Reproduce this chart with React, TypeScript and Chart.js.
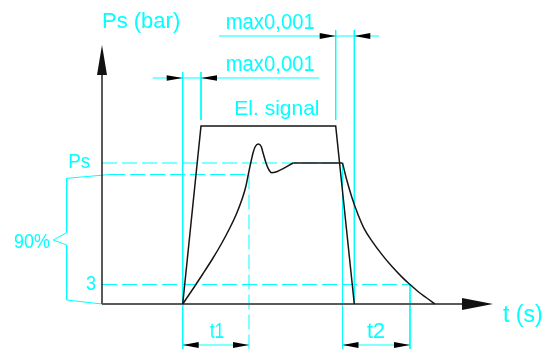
import { useEffect, useRef } from "react";
import { Chart, registerables } from "chart.js";

Chart.register(...registerables);

// ---- Data (time units along t, pressure units along Ps; origin = axes corner) ----
// Pressure rise with overshoot
const RISE_T = [80.7, 90.9, 100.8, 110.4, 119.3, 127.3, 134.4, 140.1, 143.7, 146.3, 148.7, 151.3, 153.3, 156.3, 159.2, 160.8, 164, 167, 169.7, 173, 191.3];
const RISE_P = [0, 15, 30, 45, 60, 75, 90, 105, 117, 129.5, 141, 152, 157.5, 160, 157.5, 152, 141, 134, 131.3, 131.7, 141];
// Steady pressure
const STEADY_T = [191.3, 240.5];
const STEADY_P = [141, 141];
// Pressure decay
const DECAY_T = [240.5, 244.5, 250, 256, 262, 270, 280, 290, 300, 308, 316, 324, 333];
const DECAY_P = [141, 125, 106.3, 89.5, 75.7, 62.9, 49.4, 37.4, 26.9, 19.5, 12.5, 6.5, 0];
// Electrical signal
const SIGNAL_T = [80.7, 99, 233.7, 252.3];
const SIGNAL_P = [0, 178, 178, 0];

// Levels and times
const LEVEL_PS = 141;
const LEVEL_90 = 129.5;
const LEVEL_3 = 19.5;
const T_START = 80.7;
const T_SIG_ON = 99;
const T_SIG_OFF = 233.7;
const T_SIG_END = 252.3;
const T_90 = 147;
const T_FALL = 240.5;
const T_3 = 308;

// Texts
const AXIS_Y_TITLE = "Ps (bar)";
const AXIS_X_TITLE = "t (s)";
const LEVEL_LABELS = ["Ps", "3"];
const TIME_LABELS = ["t1", "t2"];
const DELAY_LABEL = "max0,001";
const SIGNAL_LABEL = "El. signal";
const BAND_LABEL = "90%";

const CYAN = "#00ffff";
const INK = "#151515";

const pts = (ts: number[], ps: number[]) => ts.map((t, i) => ({ x: t, y: ps[i] }));
const seg = (a: [number, number][]) => a.map(([x, y]) => ({ x, y }));

function lineDs(data: { x: number; y: number }[], color: string, width: number, extra: any = {}) {
  return {
    data,
    showLine: true,
    borderColor: color,
    backgroundColor: color,
    borderWidth: width,
    pointRadius: 0,
    pointHoverRadius: 0,
    fill: false,
    tension: 0,
    ...extra,
  };
}

const annotate = {
  id: "annotate",
  afterDatasetsDraw(chart: any) {
    const { ctx } = chart;
    const xs = chart.scales.x;
    const ys = chart.scales.y;
    const X = (t: number) => xs.getPixelForValue(t);
    const Y = (p: number) => ys.getPixelForValue(p);

    const arrow = (t: number, p: number, dir: string, len: number, half: number, color = "#000") => {
      const x = X(t);
      const y = Y(p);
      ctx.save();
      ctx.fillStyle = color;
      ctx.beginPath();
      ctx.moveTo(x, y);
      if (dir === "right") {
        ctx.lineTo(x - len, y - half);
        ctx.lineTo(x - len, y + half);
      } else if (dir === "left") {
        ctx.lineTo(x + len, y - half);
        ctx.lineTo(x + len, y + half);
      } else if (dir === "up") {
        ctx.lineTo(x - half, y + len);
        ctx.lineTo(x + half, y + len);
      }
      ctx.closePath();
      ctx.fill();
      ctx.restore();
    };

    // axis arrowheads
    arrow(0, 259, "up", 30, 5, "#111");
    arrow(391, 0, "right", 31, 6, "#111");
    // dimension arrowheads
    arrow(T_START, 226, "right", 16, 2.8);
    arrow(T_SIG_ON, 226, "left", 16, 2.8);
    arrow(T_SIG_OFF, 268, "right", 16, 3);
    arrow(T_SIG_END, 268, "left", 16, 3);
    arrow(T_START, -41, "left", 16, 3);
    arrow(T_90, -41, "right", 16, 3);
    arrow(T_FALL, -41, "left", 16, 3);
    arrow(T_3, -41, "right", 16, 3);

    const text = (s: string, t: number, p: number, size: number, maxW?: number) => {
      ctx.save();
      ctx.fillStyle = CYAN;
      ctx.font = `${size}px "Liberation Sans", Arial, sans-serif`;
      ctx.textAlign = "left";
      ctx.textBaseline = "alphabetic";
      if (maxW) ctx.fillText(s, X(t), Y(p), maxW);
      else ctx.fillText(s, X(t), Y(p));
      ctx.restore();
    };

    text(AXIS_Y_TITLE, 0, 275.7, 22, 82);
    text(DELAY_LABEL, 123.7, 274.7, 22, 89);
    text(DELAY_LABEL, 123.7, 233, 22, 89);
    text(SIGNAL_LABEL, 132.3, 189, 21, 87);
    text(LEVEL_LABELS[0], -33.7, 135.7, 21, 22);
    text(LEVEL_LABELS[1], -16, 14, 21, 10);
    text(BAND_LABEL, -88, 55.7, 21, 36);
    text(TIME_LABELS[0], 108, -34, 22, 14);
    text(TIME_LABELS[1], 265, -34, 22, 18);
    text(AXIS_X_TITLE, 401, -18, 23, 44);
  },
};

export default function App() {
  const ref = useRef<HTMLCanvasElement>(null);

  useEffect(() => {
    document.body.style.margin = "0";
    const dash = { borderDash: [15, 5] };
    const datasets: any[] = [
      // black marks (drawn on top)
      lineDs(pts(RISE_T, RISE_P), INK, 1.5, { cubicInterpolationMode: "monotone" }),
      lineDs(pts(STEADY_T, STEADY_P), INK, 1.5),
      lineDs(pts(DECAY_T, DECAY_P), INK, 1.5, { cubicInterpolationMode: "monotone" }),
      lineDs(pts(SIGNAL_T, SIGNAL_P), INK, 1.5),
      lineDs(seg([[0, 0], [362, 0]]), "#5a5a5a", 2),
      lineDs(seg([[0, 0], [0, 231]]), "#222", 1.5),
      // cyan reference lines
      lineDs(seg([[0, LEVEL_PS], [T_FALL, LEVEL_PS]]), CYAN, 1, dash),
      lineDs(seg([[8, LEVEL_90], [T_90, LEVEL_90]]), CYAN, 1, dash),
      lineDs(seg([[0, LEVEL_3], [T_3, LEVEL_3]]), CYAN, 1, dash),
      lineDs(seg([[T_90, LEVEL_90], [T_90, -45]]), CYAN, 1, dash),
      lineDs(seg([[T_START, 232], [T_START, -45]]), CYAN, 1),
      lineDs(seg([[T_SIG_ON, 232], [T_SIG_ON, 184]]), CYAN, 1),
      lineDs(seg([[T_SIG_OFF, 274], [T_SIG_OFF, 184]]), CYAN, 1),
      lineDs(seg([[T_SIG_END, 274], [T_SIG_END, 0]]), CYAN, 1),
      lineDs(seg([[T_FALL, LEVEL_PS], [T_FALL, -45]]), CYAN, 1),
      lineDs(seg([[T_3, LEVEL_3], [T_3, -45]]), CYAN, 1),
      lineDs(seg([[50.7, 226], [217.3, 226]]), CYAN, 1),
      lineDs(seg([[117, 268], [277, 268]]), CYAN, 1),
      lineDs(seg([[T_START, -41], [T_90, -41]]), CYAN, 1),
      lineDs(seg([[T_FALL, -41], [T_3, -41]]), CYAN, 1),
      lineDs(
        seg([
          [8, LEVEL_90],
          [-35.3, 125.7],
          [-35.3, 71.3],
          [-48.7, 64],
          [-35.3, 59],
          [-35.3, 4],
          [0, 0],
        ]),
        CYAN,
        1
      ),
    ];

    const chart = new Chart(ref.current!, {
      type: "scatter",
      data: { datasets },
      options: {
        animation: false,
        responsive: false,
        devicePixelRatio: 1,
        events: [],
        layout: { padding: 0, autoPadding: false } as any,
        plugins: { legend: { display: false }, tooltip: { enabled: false }, title: { display: false } },
        scales: {
          x: { type: "linear", min: -102, max: 445, display: false },
          y: { type: "linear", min: -45, max: 304, display: false },
        },
      },
      plugins: [annotate],
    });
    return () => chart.destroy();
  }, []);

  return (
    <div style={{ width: 547, height: 349, background: "#fff" }}>
      <canvas ref={ref} width={547} height={349} style={{ display: "block" }} />
    </div>
  );
}
